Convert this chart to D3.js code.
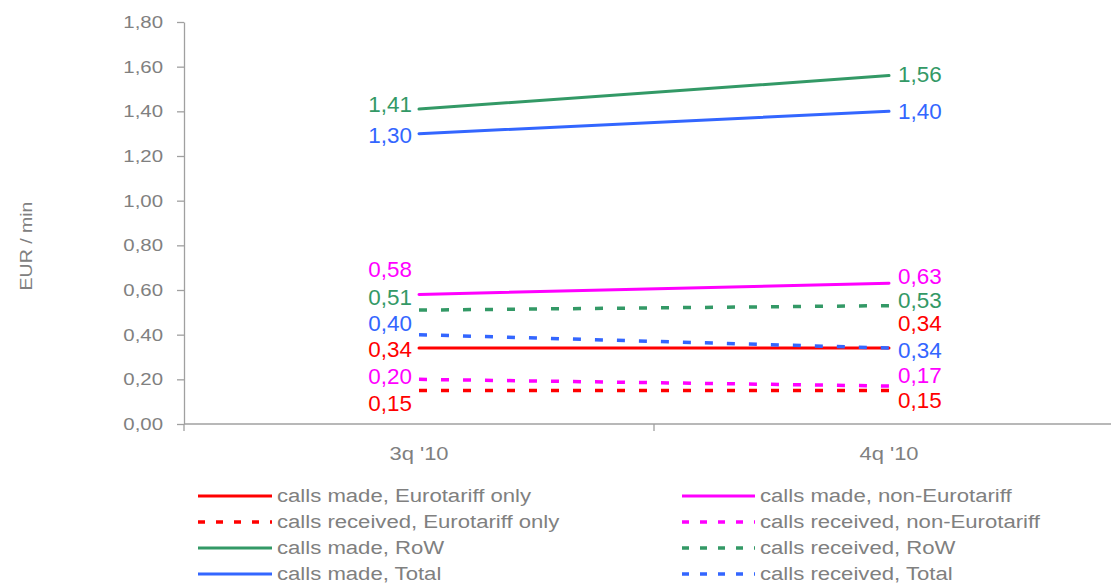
<!DOCTYPE html>
<html lang="en">
<head>
  <meta charset="UTF-8">
  <title>EUR / min</title>
  <style>
    body { margin: 0; background: #fff; }
    text { font-family: "Liberation Sans", Arial, sans-serif; }
  </style>
</head>
<body>
  <svg id="mainsvg" width="1111" height="583"></svg>
  <script src="https://cdn.jsdelivr.net/npm/d3@7/dist/d3.min.js"></script>
  <script>
    // data
    const categories = ["3q '10", "4q '10"]
    const seriesNames = [
      'calls made, Eurotariff only',
      'calls made, non-Eurotariff',
      'calls received, Eurotariff only',
      'calls received, non-Eurotariff',
      'calls made, RoW',
      'calls received, RoW',
      'calls made, Total',
      'calls received, Total'
    ]
    const madeEuro = [0.34, 0.34]
    const madeNonEuro = [0.58, 0.63]
    const recvEuro = [0.15, 0.15]
    const recvNonEuro = [0.20, 0.17]
    const madeRow = [1.41, 1.56]
    const recvRow = [0.51, 0.53]
    const madeTotal = [1.30, 1.40]
    const recvTotal = [0.40, 0.34]
    const seriesValues = [madeEuro, madeNonEuro, recvEuro, recvNonEuro, madeRow, recvRow, madeTotal, recvTotal]
    const yTicks = [0, 0.2, 0.4, 0.6, 0.8, 1.0, 1.2, 1.4, 1.6, 1.8]

    // styles
    const colors = ['#ff0000', '#ff00ff', '#ff0000', '#ff00ff', '#339966', '#339966', '#3366ff', '#3366ff']
    const dashed = [false, false, true, true, false, true, false, true]
    // label nudges (px) so labels don't overlap, left point / right point
    const labelDyLeft = [1, -25, 13, -3, -5, -13, 1, -12]
    const labelDyRight = [-25, -7, 10, -11, -2, -6, 0, 2]

    const svg = d3.select('#mainsvg')
    const gray = '#808080'
    const fmt = v => v.toFixed(2).replace('.', ',')

    const xScale = d3.scaleBand().domain(categories).range([184, 1124])
    const yScale = d3.scaleLinear().domain([0, 1.8]).range([424, 22])
    const cx = c => xScale(c) + xScale.bandwidth() / 2

    // y axis
    const yAxis = d3.axisLeft(yScale).tickValues(yTicks).tickFormat(fmt).tickSize(7).tickSizeOuter(0)
    const gy = svg.append('g').attr('transform', 'translate(184,0)').call(yAxis)
    gy.select('.domain').attr('stroke', '#a0a0a0').attr('stroke-width', 1.3)
    gy.selectAll('.tick line').attr('stroke', '#a0a0a0').attr('stroke-width', 1.3)
    gy.selectAll('.tick text')
      .attr('x', 0)
      .attr('transform', 'translate(-21,0) scale(1.2,1)')
      .attr('font-size', 17)
      .attr('fill', gray)
      .attr('font-family', '"Liberation Sans", Arial, sans-serif')

    // x axis line + boundary ticks
    svg.append('line')
      .attr('x1', 184).attr('x2', 1111)
      .attr('y1', yScale(0)).attr('y2', yScale(0))
      .attr('stroke', '#a0a0a0').attr('stroke-width', 1.3)
    const bounds = categories.map(c => xScale(c)).concat([xScale.range()[1]])
    svg.selectAll('.xtick').data(bounds).join('line')
      .attr('class', 'xtick')
      .attr('x1', d => d).attr('x2', d => d)
      .attr('y1', yScale(0)).attr('y2', yScale(0) + 7)
      .attr('stroke', '#a0a0a0').attr('stroke-width', 1.3)
    svg.selectAll('.xlabel').data(categories).join('text')
      .attr('class', 'xlabel')
      .attr('transform', d => `translate(${cx(d)},460) scale(1.22,1)`)
      .attr('text-anchor', 'middle')
      .attr('font-size', 18)
      .attr('fill', gray)
      .text(d => d)

    // y title
    svg.append('text')
      .attr('transform', 'translate(32,246) rotate(-90) scale(1.15,1)')
      .attr('text-anchor', 'middle')
      .attr('font-size', 17)
      .attr('fill', gray)
      .text('EUR / min')

    // lines
    const line = d3.line().x((d, i) => cx(categories[i])).y(d => yScale(d))
    seriesValues.forEach((vals, s) => {
      svg.append('path')
        .attr('d', line(vals))
        .attr('fill', 'none')
        .attr('stroke', colors[s])
        .attr('stroke-width', dashed[s] ? 3.5 : 3)
        .attr('stroke-dasharray', dashed[s] ? '8,14' : null)
        .attr('stroke-linecap', dashed[s] ? 'butt' : 'round')
    })

    // data labels
    seriesValues.forEach((vals, s) => {
      vals.forEach((v, i) => {
        const left = i === 0
        const x = left ? cx(categories[i]) - 7 : cx(categories[i]) + 9
        const y = yScale(v) + (left ? labelDyLeft[s] : labelDyRight[s])
        svg.append('text')
          .attr('transform', `translate(${x},${y}) scale(1.02,1)`)
          .attr('dy', '0.36em')
          .attr('text-anchor', left ? 'end' : 'start')
          .attr('font-size', 22)
          .attr('fill', colors[s])
          .text(fmt(v))
      })
    })

    // legend, two columns row-major
    const legendCols = [{ x1: 198, x2: 272, tx: 277 }, { x1: 682, x2: 755, tx: 760 }]
    seriesNames.forEach((name, s) => {
      const col = legendCols[s % 2]
      const row = Math.floor(s / 2)
      const y = 496 + row * 26
      svg.append('line')
        .attr('x1', col.x1).attr('x2', col.x2)
        .attr('y1', y).attr('y2', y)
        .attr('stroke', colors[s])
        .attr('stroke-width', dashed[s] ? 3.5 : 3)
        .attr('stroke-dasharray', dashed[s] ? '7,11' : null)
      svg.append('text')
        .attr('transform', `translate(${col.tx},${y + 6}) scale(1.23,1)`)
        .attr('font-size', 18)
        .attr('fill', gray)
        .text(name)
    })
  </script>
</body>
</html>
